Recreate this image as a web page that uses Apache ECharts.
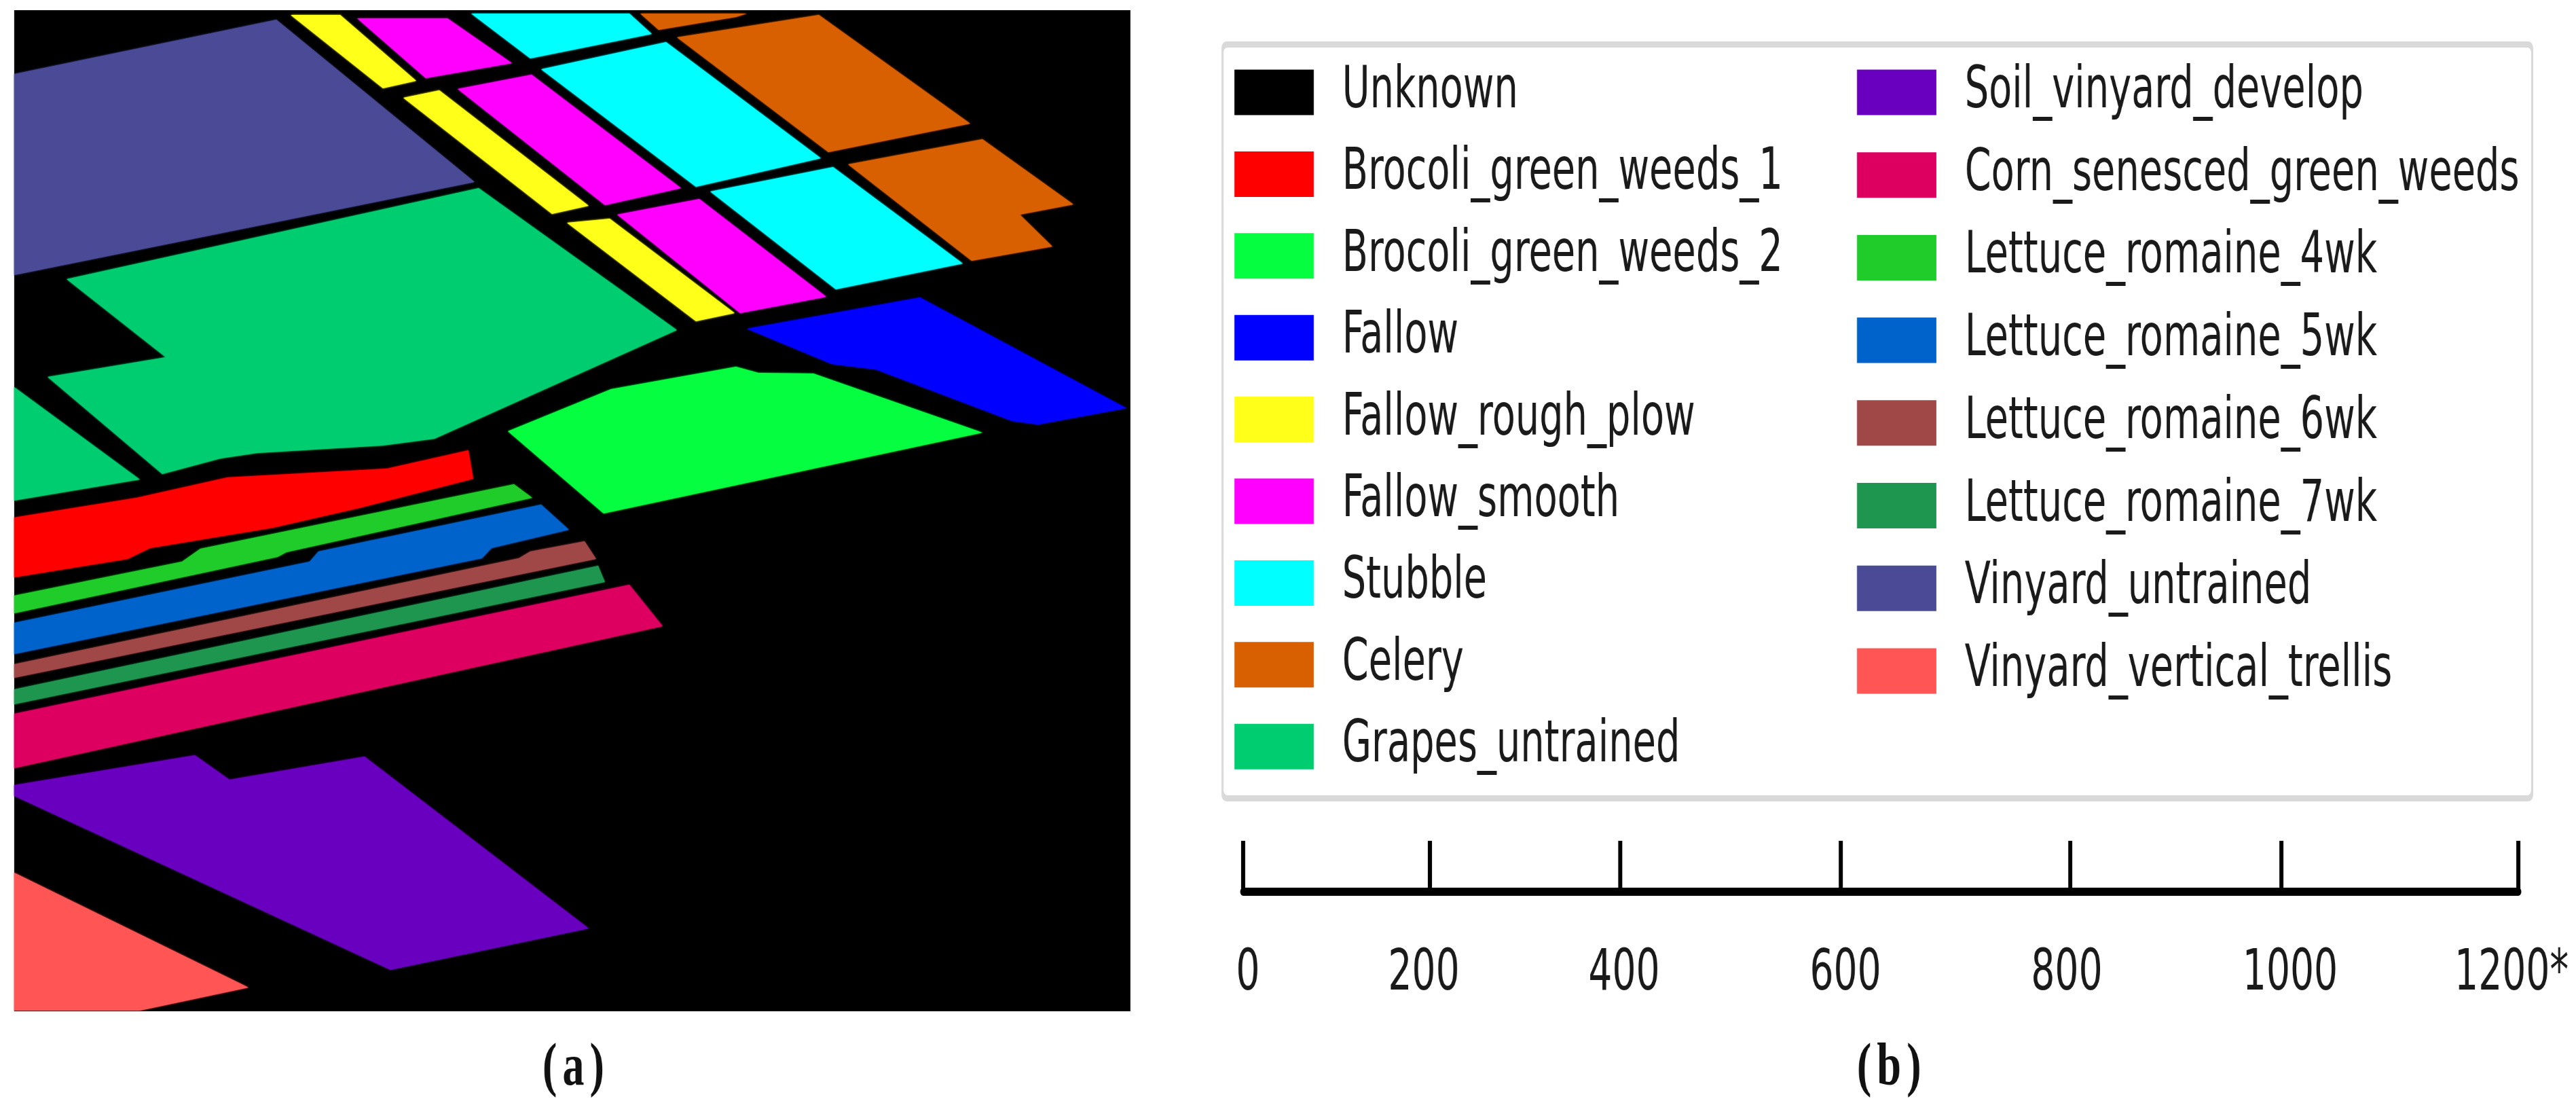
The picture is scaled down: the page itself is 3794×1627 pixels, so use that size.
<!DOCTYPE html>
<html>
<head>
<meta charset="utf-8">
<style>
  html, body { margin: 0; padding: 0; background: #fff; width: 3794px; height: 1627px; overflow: hidden; }
  /* the picture is squeezed sideways, so the text comes out tall and narrow */
  #main { height: 1627px; transform-origin: 0 0; }
</style>
<script src="https://cdn.jsdelivr.net/npm/echarts@6/dist/echarts.min.js"></script>
</head>
<body>
<div id="main"></div>
<script>
// class names, left and right column of the legend
var leftClasses = ['Unknown', 'Brocoli_green_weeds_1', 'Brocoli_green_weeds_2', 'Fallow', 'Fallow_rough_plow',
  'Fallow_smooth', 'Stubble', 'Celery', 'Grapes_untrained'];
var rightClasses = ['Soil_vinyard_develop', 'Corn_senesced_green_weeds', 'Lettuce_romaine_4wk', 'Lettuce_romaine_5wk',
  'Lettuce_romaine_6wk', 'Lettuce_romaine_7wk', 'Vinyard_untrained', 'Vinyard_vertical_trellis'];

var classColors = {
  Unknown: '#000000', Brocoli_green_weeds_1: '#ff0000', Brocoli_green_weeds_2: '#05ff40', Fallow: '#0000ff',
  Fallow_rough_plow: '#ffff1a', Fallow_smooth: '#ff00ff', Stubble: '#00ffff', Celery: '#d96000',
  Grapes_untrained: '#00cc70', Soil_vinyard_develop: '#6a00bf', Corn_senesced_green_weeds: '#de0060',
  Lettuce_romaine_4wk: '#1fcc29', Lettuce_romaine_5wk: '#0063cc', Lettuce_romaine_6wk: '#a04848',
  Lettuce_romaine_7wk: '#1f9650', Vinyard_untrained: '#4a4a96', Vinyard_vertical_trellis: '#ff5555'
};

// field outlines, one list of polygons per class
var unknownFields = [[[21, 15], [1665, 15], [1665, 1489], [21, 1489]]];
var brocoli1Fields = [[[21, 762], [201, 733], [335, 703], [570, 690], [690, 663], [697, 705], [529, 748], [402, 777], [221, 807], [188, 823], [21, 850]]];
var brocoli2Fields = [[[748, 635], [900, 573], [1084, 540], [1117, 549], [1198, 550], [1447, 637], [889, 756]]];
var fallowFields = [[[1100, 484], [1355, 438], [1659, 601], [1529, 625], [1491, 620], [1290, 544], [1225, 536]]];
var roughPlowFields = [
  [[428, 22], [501, 22], [613, 119], [564, 130]],
  [[594, 144], [647, 133], [867, 303], [813, 315]],
  [[835, 328], [898, 322], [1082, 461], [1025, 473]]
];
var smoothFields = [
  [[526, 27], [659, 27], [754, 93], [627, 115]],
  [[674, 131], [783, 110], [1003, 277], [891, 302]],
  [[909, 316], [1030, 293], [1217, 437], [1090, 461]]
];
var stubbleFields = [
  [[694, 20], [927, 20], [960, 50], [781, 86]],
  [[797, 102], [981, 62], [1209, 233], [1025, 275]],
  [[1046, 282], [1227, 246], [1418, 388], [1231, 426]]
];
var celeryFields = [
  [[943, 20], [1100, 20], [1084, 25], [970, 44]],
  [[997, 55], [1206, 22], [1429, 182], [1220, 224]],
  [[1249, 242], [1447, 205], [1581, 301], [1502, 316], [1550, 363], [1431, 384]]
];
var grapesFields = [
  [[98, 411], [705, 277], [997, 486], [640, 646], [564, 656], [379, 667], [325, 675], [239, 698], [70, 555], [244, 526]],
  [[21, 570], [206, 706], [21, 737]]
];
var soilFields = [[[21, 1156], [287, 1112], [338, 1148], [537, 1114], [867, 1367], [575, 1428], [21, 1172]]];
var cornFields = [[[21, 1051], [927, 861], [976, 922], [21, 1131]]];
var lettuce4Fields = [[[21, 877], [268, 827], [295, 808], [757, 713], [784, 733], [422, 813], [409, 820], [21, 903]]];
var lettuce5Fields = [[[21, 917], [456, 827], [469, 812], [797, 743], [838, 780], [724, 807], [710, 822], [21, 963]]];
var lettuce6Fields = [[[21, 978], [764, 822], [781, 812], [861, 797], [878, 823], [21, 998]]];
var lettuce7Fields = [[[21, 1015], [881, 833], [891, 857], [21, 1037]]];
var untrainedFields = [[[21, 109], [407, 29], [699, 268], [21, 405]]];
var trellisFields = [[[21, 1285], [366, 1454], [206, 1488], [21, 1488]]];

var classFields = {
  Unknown: unknownFields, Brocoli_green_weeds_1: brocoli1Fields, Brocoli_green_weeds_2: brocoli2Fields,
  Fallow: fallowFields, Fallow_rough_plow: roughPlowFields, Fallow_smooth: smoothFields, Stubble: stubbleFields,
  Celery: celeryFields, Grapes_untrained: grapesFields, Soil_vinyard_develop: soilFields,
  Corn_senesced_green_weeds: cornFields, Lettuce_romaine_4wk: lettuce4Fields, Lettuce_romaine_5wk: lettuce5Fields,
  Lettuce_romaine_6wk: lettuce6Fields, Lettuce_romaine_7wk: lettuce7Fields, Vinyard_untrained: untrainedFields,
  Vinyard_vertical_trellis: trellisFields
};

// scale bar under the legend, its ticks are not evenly spaced
var barTickPos = [0, 275, 555, 880, 1218, 1529, 1878];
var barLabelPos = [7, 266, 561, 887, 1213, 1542, 1868];
var barLabels = ['0', '200', '400', '600', '800', '1000', '1200*'];

var textFont = '"DejaVu Sans Condensed", "DejaVu Sans", sans-serif';
var squeeze = 0.73;
var legendFontSize = 85;

// page x to chart x
function sx(v) { return v / squeeze; }

var dom = document.getElementById('main');
dom.style.width = sx(3794) + 'px';
dom.style.transform = 'scaleX(' + squeeze + ')';

function fieldSeries(name) {
  var fields = classFields[name];
  return {
    name: name,
    type: 'custom',
    coordinateSystem: 'cartesian2d',
    xAxisIndex: 0,
    yAxisIndex: 0,
    silent: true,
    animation: false,
    itemStyle: { color: classColors[name] },
    data: fields.map(function (f, i) { return [i]; }),
    renderItem: function (params, api) {
      var pts = fields[params.dataIndex].map(function (p) { return api.coord(p); });
      return {
        type: 'polygon',
        shape: { points: pts },
        style: { fill: classColors[name], shadowBlur: name === 'Unknown' ? 0 : 3, shadowColor: classColors[name] }
      };
    }
  };
}

function classLegend(names, x, rowPitch) {
  return {
    data: names,
    orient: 'vertical',
    left: sx(x),
    top: 136 - legendFontSize / 2,
    padding: 0,
    icon: 'rect',
    itemWidth: sx(117),
    itemHeight: 67,
    itemGap: rowPitch - legendFontSize,
    itemStyle: { borderWidth: 0 },
    selectedMode: false,
    textStyle: { fontFamily: textFont, fontSize: legendFontSize, color: '#1a1a1a', padding: [0, 0, 0, sx(38)] }
  };
}

function caption(letter, x) {
  var serif = '"Liberation Serif", serif';
  return {
    text: '{p|(}{b|' + letter + '}{q|)}',
    left: sx(x),
    top: 1530,
    padding: 0,
    textStyle: {
      rich: {
        p: { fontFamily: serif, fontSize: 88, color: '#111', padding: [0, sx(8), 0, 0] },
        b: { fontFamily: serif, fontSize: 88, fontWeight: 'bold', color: '#111' },
        q: { fontFamily: serif, fontSize: 88, color: '#111', padding: [0, 0, 0, sx(8)] }
      }
    }
  };
}

var option = {
  backgroundColor: '#fff',
  animation: false,
  title: [caption('a', 799), caption('b', 2735)],
  legend: [classLegend(leftClasses, 1818, 120.4), classLegend(rightClasses, 2735, 121.7)],
  grid: [
    { left: sx(21), top: 15, width: sx(1644), height: 1474, outerBoundsMode: 'none' },
    { left: sx(1831), top: 1238, width: sx(1878), height: 75, outerBoundsMode: 'none' }
  ],
  xAxis: [
    { type: 'value', gridIndex: 0, min: 21, max: 1665, show: false },
    {
      type: 'value', gridIndex: 1, min: 0, max: 1878,
      splitLine: { show: false },
      axisLine: { lineStyle: { color: '#000', width: 12 } },
      axisTick: { inside: true, length: 75, customValues: barTickPos, lineStyle: { color: '#000', width: sx(6) } },
      axisLabel: {
        customValues: barLabelPos,
        margin: 80,
        fontFamily: textFont,
        fontSize: 84,
        color: '#1a1a1a',
        hideOverlap: false,
        showMinLabel: true,
        showMaxLabel: true,
        formatter: function (v) { return barLabels[barLabelPos.indexOf(v)]; }
      }
    }
  ],
  yAxis: [
    { type: 'value', gridIndex: 0, min: 15, max: 1489, inverse: true, show: false },
    { type: 'value', gridIndex: 1, min: 0, max: 1, show: false }
  ],
  graphic: [
    { type: 'rect', z: 0, shape: { x: sx(1799), y: 61, width: sx(1932), height: 1119, r: 10 }, style: { fill: '#d9d9d9' } },
    { type: 'rect', z: 1, shape: { x: sx(1802), y: 70, width: sx(1926), height: 1101, r: 8 }, style: { fill: '#fff' } }
  ],
  series: leftClasses.concat(rightClasses).map(fieldSeries)
};

var myChart = echarts.init(dom);
myChart.setOption(option, true);
</script>
</body>
</html>
